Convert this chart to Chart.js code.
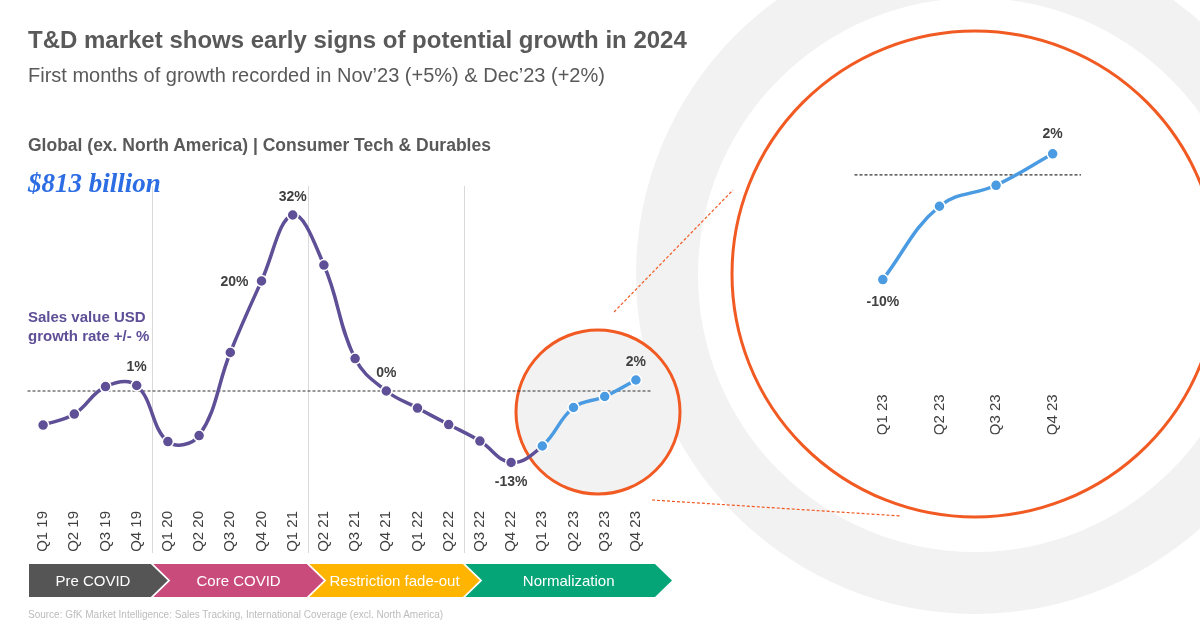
<!DOCTYPE html>
<html>
<head>
<meta charset="utf-8">
<script src="https://cdn.jsdelivr.net/npm/chart.js@4.4.1/dist/chart.umd.min.js"></script>
<style>
    html, body { margin: 0; padding: 0; background: #fff; }
    #wrap { position: relative; width: 1200px; height: 627px; overflow: hidden; font-family: "Liberation Sans", Arial, sans-serif; }
    #wrap canvas { position: absolute; left: 0; top: 0; }
    .txt { position: absolute; left: 28px; white-space: nowrap; color: #595959; }
    #title { top: 26px; font-size: 24px; line-height: 28px; font-weight: bold; }
    #subtitle { top: 63px; font-size: 20px; line-height: 24px; }
    #region { top: 134px; font-size: 17.5px; line-height: 22px; font-weight: bold; }
    #total { top: 167px; font-size: 27px; line-height: 32px; font-weight: bold; font-style: italic; font-family: "Liberation Serif", "DejaVu Serif", serif; color: #2d6de3; }
    #measure { top: 307px; font-size: 15px; line-height: 19px; font-weight: bold; color: #5e4f96; }
    #source { top: 608px; font-size: 10px; line-height: 14px; color: #bcbcbc; }
</style>
</head>
<body>
<div id="wrap">
    <canvas id="mainChart" width="1200" height="627"></canvas>
    <canvas id="zoomChart" width="1200" height="627"></canvas>
    <div class="txt" id="title">T&amp;D market shows early signs of potential growth in 2024</div>
    <div class="txt" id="subtitle">First months of growth recorded in Nov’23 (+5%) &amp; Dec’23 (+2%)</div>
    <div class="txt" id="region">Global (ex. North America) | Consumer Tech &amp; Durables</div>
    <div class="txt" id="total">$813 billion</div>
    <div class="txt" id="measure">Sales value USD<br>growth rate +/- %</div>
    <div class="txt" id="source">Source: GfK Market Intelligence: Sales Tracking, International Coverage (excl. North America)</div>
</div>
<script>
// quarters and sales value growth (%)
const quarters = ['Q1 19', 'Q2 19', 'Q3 19', 'Q4 19', 'Q1 20', 'Q2 20', 'Q3 20', 'Q4 20', 'Q1 21', 'Q2 21',
    'Q3 21', 'Q4 21', 'Q1 22', 'Q2 22', 'Q3 22', 'Q4 22', 'Q1 23', 'Q2 23', 'Q3 23', 'Q4 23'];
const growth = [-6.2, -4.2, 0.8, 1, -9.2, -8.1, 7, 20, 32, 22.9, 5.9, 0, -3.1, -6.1, -9.1, -13, -10, -3, -1, 2];
const blueFrom = 16;   // 2023 drawn in blue

const mainLabelIdx = [3, 7, 8, 11, 15, 19];
const mainLabelPos = ['top', 'left', 'top', 'top', 'bottom', 'top'];

// zoomed 2023
const zoomQuarters = ['Q1 23', 'Q2 23', 'Q3 23', 'Q4 23'];
const zoomGrowth = [-10, -3, -1, 2];
const zoomLabelIdx = [0, 3];
const zoomLabelPos = ['bottom', 'top'];

// phases (first and last quarter index)
const phaseNames = ['Pre COVID', 'Core COVID', 'Restriction fade-out', 'Normalization'];
const phaseStart = [0, 4, 9, 14];
const phaseEnd = [3, 8, 13, 19];
const phaseColors = ['#555555', '#c94b7b', '#ffb400', '#05a577'];

const PURPLE = '#5e4f96';
const BLUE = '#4a9be2';
const ORANGE = '#f15a22';
const FONT = '"Liberation Sans", Arial, sans-serif';

Chart.defaults.font.family = FONT;

function drawZeroLine(chart) {
    const ctx = chart.ctx;
    const y = chart.scales.y.getPixelForValue(0);
    ctx.save();
    ctx.strokeStyle = '#333333';
    ctx.lineWidth = 1.2;
    ctx.setLineDash([3, 2]);
    ctx.beginPath();
    ctx.moveTo(chart.chartArea.left, y);
    ctx.lineTo(chart.chartArea.right, y);
    ctx.stroke();
    ctx.restore();
}

const valueLabels = {
    id: 'valueLabels',
    beforeDatasetsDraw(chart) {
        drawZeroLine(chart);
    },
    afterDatasetsDraw(chart, args, opts) {
        const ctx = chart.ctx;
        const meta = chart.getDatasetMeta(0);
        const values = chart.data.datasets[0].data;
        ctx.save();
        ctx.font = 'bold 14px ' + FONT;
        ctx.fillStyle = '#404040';
        ctx.textBaseline = 'middle';
        opts.idx.forEach(function(i, k) {
            const pt = meta.data[i];
            const text = values[i] + '%';
            const pos = opts.pos[k];
            if (pos === 'left') {
                ctx.textAlign = 'right';
                ctx.fillText(text, pt.x - 13, pt.y + 1);
            } else {
                ctx.textAlign = 'center';
                ctx.fillText(text, pt.x, pos === 'top' ? pt.y - opts.up : pt.y + opts.down);
            }
        });
        ctx.restore();
    }
};

const decor = {
    id: 'decor',
    beforeDraw(chart) {
        const ctx = chart.ctx;
        ctx.save();
        // grey ring behind the zoom
        ctx.fillStyle = '#f2f2f2';
        ctx.beginPath(); ctx.arc(975, 275, 339, 0, Math.PI * 2); ctx.fill();
        ctx.fillStyle = '#ffffff';
        ctx.beginPath(); ctx.arc(975, 275, 277, 0, Math.PI * 2); ctx.fill();
        // zoom circle
        ctx.strokeStyle = ORANGE;
        ctx.lineWidth = 3;
        ctx.beginPath(); ctx.arc(975, 274, 243, 0, Math.PI * 2); ctx.stroke();
        // connectors
        ctx.lineWidth = 1.2;
        ctx.setLineDash([3, 2]);
        ctx.beginPath();
        ctx.moveTo(614, 312); ctx.lineTo(733, 190);
        ctx.moveTo(652, 500); ctx.lineTo(901, 516);
        ctx.stroke();
        ctx.setLineDash([]);
        // small circle round 2023
        ctx.fillStyle = '#f2f2f2';
        ctx.lineWidth = 3;
        ctx.beginPath(); ctx.arc(598, 412, 82, 0, Math.PI * 2); ctx.fill(); ctx.stroke();
        ctx.restore();
    },
    beforeDatasetsDraw(chart) {
        // phase separators
        const ctx = chart.ctx;
        const x = chart.scales.x;
        const half = (x.getPixelForValue(1) - x.getPixelForValue(0)) / 2;
        ctx.save();
        ctx.strokeStyle = '#d9d9d9';
        ctx.lineWidth = 1;
        for (let p = 1; p < phaseStart.length; p++) {
            const sx = Math.round(x.getPixelForValue(phaseStart[p]) - half) + 0.5;
            ctx.beginPath();
            ctx.moveTo(sx, 186);
            ctx.lineTo(sx, 553);
            ctx.stroke();
        }
        ctx.restore();
    },
    afterDraw(chart) {
        // phase arrows
        const ctx = chart.ctx;
        const x = chart.scales.x;
        const half = (x.getPixelForValue(1) - x.getPixelForValue(0)) / 2;
        const top = 564, bottom = 597, mid = (top + bottom) / 2, depth = 17;
        ctx.save();
        for (let p = 0; p < phaseNames.length; p++) {
            const L = x.getPixelForValue(phaseStart[p]) - half + (p === 0 ? 1.5 : 1);
            const R = x.getPixelForValue(phaseEnd[p]) + half - 1.5 + (p === phaseNames.length - 1 ? 5 : 0);
            ctx.fillStyle = phaseColors[p];
            ctx.beginPath();
            ctx.moveTo(L, top);
            ctx.lineTo(R, top);
            ctx.lineTo(R + depth, mid);
            ctx.lineTo(R, bottom);
            ctx.lineTo(L, bottom);
            if (p > 0) ctx.lineTo(L + depth, mid);
            ctx.closePath();
            ctx.fill();
            ctx.fillStyle = '#ffffff';
            ctx.font = '15px ' + FONT;
            ctx.textAlign = 'center';
            ctx.textBaseline = 'middle';
            const cx = p === 0 ? (L + R) / 2 + 3 : (L + depth + R) / 2;
            ctx.fillText(phaseNames[p], cx, mid + 1);
        }
        ctx.restore();
    }
};

function xAxis() {
    return {
        type: 'category',
        offset: true,
        grid: { display: false, drawTicks: false },
        border: { display: false },
        ticks: {
            autoSkip: false,
            minRotation: 90,
            maxRotation: 90,
            padding: 10,
            color: '#404040',
            font: { size: 15, family: FONT }
        },
        afterFit: function(scale) {
            scale.height = 50;
            scale.paddingLeft = 0;
            scale.paddingRight = 0;
        }
    };
}

new Chart(document.getElementById('mainChart').getContext('2d'), {
    type: 'line',
    data: {
        labels: quarters,
        datasets: [{
            data: growth,
            borderWidth: 3.5,
            tension: 0.4,
            borderColor: PURPLE,
            segment: {
                borderColor: function(c) { return c.p0DataIndex >= blueFrom ? BLUE : PURPLE; }
            },
            pointRadius: 5.5,
            pointBorderWidth: 1.5,
            pointBorderColor: '#ffffff',
            pointBackgroundColor: growth.map(function(v, i) { return i >= blueFrom ? BLUE : PURPLE; })
        }]
    },
    options: {
        responsive: false,
        animation: false,
        layout: { padding: { left: 27.5, right: 548.5, top: 193, bottom: 76 } },
        scales: {
            x: xAxis(),
            y: { display: false, min: -20, max: 36 }
        },
        plugins: {
            legend: { display: false },
            tooltip: { enabled: false },
            valueLabels: { idx: mainLabelIdx, pos: mainLabelPos, up: 18, down: 20 }
        }
    },
    plugins: [decor, valueLabels]
});

new Chart(document.getElementById('zoomChart').getContext('2d'), {
    type: 'line',
    data: {
        labels: zoomQuarters,
        datasets: [{
            data: zoomGrowth,
            borderWidth: 3.5,
            tension: 0.4,
            borderColor: BLUE,
            pointRadius: 5.5,
            pointBorderWidth: 1.5,
            pointBorderColor: '#ffffff',
            pointBackgroundColor: BLUE
        }]
    },
    options: {
        responsive: false,
        animation: false,
        layout: { padding: { left: 854.5, right: 119, top: 70, bottom: 192.6 } },
        scales: {
            x: xAxis(),
            y: { display: false, min: -20, max: 10 }
        },
        plugins: {
            legend: { display: false },
            tooltip: { enabled: false },
            valueLabels: { idx: zoomLabelIdx, pos: zoomLabelPos, up: 20, down: 23 }
        }
    },
    plugins: [valueLabels]
});
</script>
</body>
</html>
